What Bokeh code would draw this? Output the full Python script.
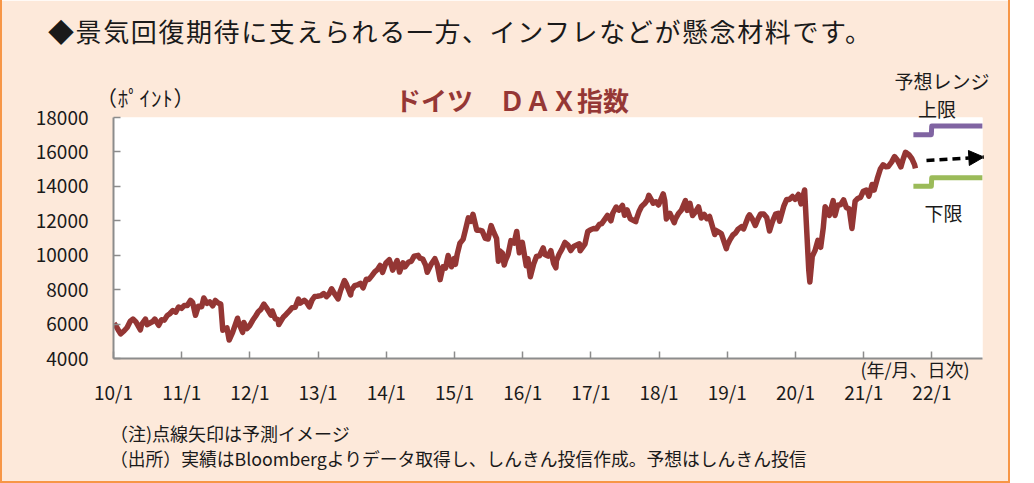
import pandas as pd
from bokeh.plotting import figure
from bokeh.layouts import column
from bokeh.models import Range1d, FixedTicker, Label, Arrow, NormalHead, Div
from bokeh.embed import file_html
from bokeh.resources import INLINE

# ---------------- data ----------------
dax_dates = [
    "2010-01-04", "2010-01-15", "2010-01-29", "2010-02-08", "2010-02-26", "2010-03-15", "2010-03-31",
    "2010-04-15", "2010-04-30", "2010-05-25", "2010-05-31", "2010-06-21", "2010-06-30", "2010-07-15",
    "2010-07-30", "2010-08-10", "2010-08-31", "2010-09-15", "2010-09-30", "2010-10-15", "2010-10-29",
    "2010-11-15", "2010-11-30", "2010-12-15", "2010-12-31",
    "2011-01-14", "2011-01-31", "2011-02-17", "2011-02-28", "2011-03-16", "2011-03-31", "2011-04-18",
    "2011-04-29", "2011-05-16", "2011-05-31", "2011-06-16", "2011-06-30", "2011-07-15", "2011-07-29",
    "2011-08-09", "2011-08-31", "2011-09-12", "2011-09-30", "2011-10-27", "2011-10-31", "2011-11-23",
    "2011-11-30", "2011-12-15", "2011-12-30",
    "2012-01-16", "2012-01-31", "2012-02-15", "2012-02-29", "2012-03-16", "2012-03-30", "2012-04-23",
    "2012-04-30", "2012-05-16", "2012-05-31", "2012-06-04", "2012-06-29", "2012-07-13", "2012-07-31",
    "2012-08-15", "2012-08-31", "2012-09-17", "2012-09-28", "2012-10-19", "2012-10-31", "2012-11-15",
    "2012-11-30", "2012-12-14", "2012-12-28",
    "2013-01-15", "2013-01-31", "2013-02-15", "2013-02-28", "2013-03-14", "2013-03-28", "2013-04-18",
    "2013-04-30", "2013-05-22", "2013-05-31", "2013-06-24", "2013-06-28", "2013-07-15", "2013-07-31",
    "2013-08-15", "2013-08-30", "2013-09-16", "2013-09-30", "2013-10-15", "2013-10-31", "2013-11-15",
    "2013-11-29", "2013-12-12", "2013-12-30",
    "2014-01-17", "2014-01-31", "2014-02-04", "2014-02-28", "2014-03-13", "2014-03-31", "2014-04-11",
    "2014-04-30", "2014-05-15", "2014-05-30", "2014-06-20", "2014-06-30", "2014-07-15", "2014-07-31",
    "2014-08-08", "2014-08-29", "2014-09-18", "2014-09-30", "2014-10-16", "2014-10-31", "2014-11-14",
    "2014-11-28", "2014-12-16", "2014-12-30",
    "2015-01-06", "2015-01-15", "2015-01-30", "2015-02-16", "2015-02-27", "2015-03-16", "2015-03-31",
    "2015-04-10", "2015-04-30", "2015-05-15", "2015-05-29", "2015-06-15", "2015-06-30", "2015-07-16",
    "2015-07-31", "2015-08-14", "2015-08-24", "2015-08-31", "2015-09-14", "2015-09-24", "2015-09-30",
    "2015-10-15", "2015-10-30", "2015-11-16", "2015-11-30", "2015-12-14", "2015-12-30",
    "2016-01-20", "2016-01-29", "2016-02-11", "2016-02-29", "2016-03-15", "2016-03-31", "2016-04-20",
    "2016-04-29", "2016-05-16", "2016-05-31", "2016-06-15", "2016-06-27", "2016-06-30", "2016-07-15",
    "2016-07-29", "2016-08-15", "2016-08-31", "2016-09-15", "2016-09-30", "2016-10-14", "2016-10-31",
    "2016-11-04", "2016-11-30", "2016-12-15", "2016-12-30",
    "2017-01-16", "2017-01-31", "2017-02-15", "2017-02-28", "2017-03-16", "2017-03-31", "2017-04-18",
    "2017-04-28", "2017-05-16", "2017-05-31", "2017-06-19", "2017-06-30", "2017-07-14", "2017-07-31",
    "2017-08-29", "2017-08-31", "2017-09-15", "2017-09-29", "2017-10-16", "2017-10-31", "2017-11-07",
    "2017-11-30", "2017-12-15", "2017-12-29",
    "2018-01-23", "2018-01-31", "2018-02-09", "2018-02-28", "2018-03-23", "2018-03-29", "2018-04-16",
    "2018-04-30", "2018-05-22", "2018-05-31", "2018-06-15", "2018-06-29", "2018-07-16", "2018-07-31",
    "2018-08-15", "2018-08-31", "2018-09-14", "2018-09-28", "2018-10-26", "2018-10-31", "2018-11-15",
    "2018-11-30", "2018-12-27", "2018-12-31",
    "2019-01-15", "2019-01-31", "2019-02-15", "2019-02-28", "2019-03-18", "2019-03-29", "2019-04-23",
    "2019-04-30", "2019-05-15", "2019-05-31", "2019-06-14", "2019-06-28", "2019-07-15", "2019-07-31",
    "2019-08-15", "2019-08-30", "2019-09-16", "2019-09-30", "2019-10-08", "2019-10-31", "2019-11-15",
    "2019-11-29", "2019-12-16", "2019-12-30",
    "2020-01-17", "2020-01-31", "2020-02-19", "2020-02-28", "2020-03-12", "2020-03-18", "2020-03-31",
    "2020-04-15", "2020-04-30", "2020-05-15", "2020-05-29", "2020-06-08", "2020-06-30", "2020-07-21",
    "2020-07-31", "2020-08-14", "2020-08-31", "2020-09-15", "2020-09-30", "2020-10-15", "2020-10-30",
    "2020-11-16", "2020-11-30", "2020-12-15", "2020-12-30",
    "2021-01-15", "2021-01-29", "2021-02-15", "2021-02-26", "2021-03-15", "2021-03-31", "2021-04-15",
    "2021-04-30", "2021-05-12", "2021-05-31", "2021-06-15", "2021-06-30", "2021-07-19", "2021-07-30",
    "2021-08-13", "2021-08-31", "2021-09-15", "2021-09-30", "2021-10-05",
]
dax_values = [
    6048, 5875, 5608, 5435, 5598, 5800, 6154,
    6290, 6136, 5670, 5964, 6290, 5966, 6060,
    6148, 6290, 5925, 6250, 6229, 6490, 6601,
    6790, 6688, 6990, 6914,
    7075, 7077, 7380, 7272, 6510, 7041, 7010,
    7514, 7200, 7294, 7060, 7376, 7220, 7159,
    5640, 5785, 5070, 5502, 6340, 6141, 5520,
    6089, 5730, 5898,
    6220, 6458, 6720, 6856, 7157, 6947, 6520,
    6761, 6310, 6264, 5970, 6416, 6560, 6772,
    6950, 6970, 7450, 7216, 7380, 7261, 7000,
    7405, 7600, 7612,
    7650, 7776, 7590, 7741, 8050, 7795, 7460,
    7914, 8530, 8349, 7690, 7959, 8230, 8276,
    8370, 8103, 8610, 8594, 8800, 9033, 9170,
    9405, 9000, 9552,
    9740, 9306, 9130, 9692, 9020, 9556, 9320,
    9603, 9650, 9943, 9990, 9833, 9780, 9407,
    9010, 9470, 9800, 9474, 8580, 9327, 9250,
    9980, 9330, 9806,
    9470, 10030, 10694, 10920, 11402, 12170, 11966,
    12375, 11454, 11450, 11413, 10980, 10945, 11720,
    11309, 10980, 9650, 10259, 10130, 9430, 9660,
    10060, 10850, 10710, 11382, 10140, 10743,
    9390, 9798, 8752, 9495, 9930, 9965, 10420,
    10039, 9950, 10263, 9520, 9270, 9680, 10070,
    10337, 10740, 10593, 10270, 10511, 10580, 10665,
    10260, 10640, 11370, 11481,
    11550, 11535, 11790, 11834, 12080, 12313, 12000,
    12438, 12800, 12615, 12890, 12325, 12630, 12118,
    11950, 12056, 12520, 12829, 13000, 13230, 13480,
    13024, 13100, 12918,
    13560, 13189, 12110, 12436, 11890, 12097, 12440,
    12612, 13170, 12605, 13010, 12306, 12540, 12806,
    12160, 12364, 12120, 12247, 11200, 11448, 11350,
    11257, 10380, 10559,
    10890, 11173, 11300, 11516, 11660, 11526, 12230,
    12344, 12100, 11727, 12100, 12399, 12390, 12189,
    11410, 11939, 12380, 12428, 11970, 12867, 13240,
    13236, 13410, 13249,
    13530, 12981, 13790, 11890, 9160, 8442, 9936,
    10280, 10862, 10460, 11587, 12820, 12311, 13170,
    12313, 12900, 12945, 13220, 12761, 12700, 11556,
    13140, 13291, 13360, 13719,
    13790, 13433, 14110, 13786, 14460, 15008, 15250,
    15136, 15150, 15421, 15730, 15531, 15130, 15544,
    15980, 15835, 15620, 15260, 15040,
]

# forecast range (予想レンジ)
range_dates = ["2021-09-24", "2021-12-29", "2021-12-31", "2022-09-30"]
range_upper = [17000, 17000, 17500, 17500]
range_lower = [14000, 14000, 14500, 14500]
arrow_dates = ["2021-12-03", "2022-10-06"]
arrow_values = [15500, 15700]

x_tick_years = [2010, 2011, 2012, 2013, 2014, 2015, 2016, 2017, 2018, 2019, 2020, 2021, 2022]
x_tick_labels = ["10/1", "11/1", "12/1", "13/1", "14/1", "15/1", "16/1", "17/1",
                 "18/1", "19/1", "20/1", "21/1", "22/1"]
y_ticks = [4000, 6000, 8000, 10000, 12000, 14000, 16000, 18000]
y_tick_labels = ["4000", "6000", "8000", "10000", "12000", "14000", "16000", "18000"]

title_text = "◆景気回復期待に支えられる一方、インフレなどが懸念材料です。"
chart_title = "ドイツ　ＤＡＸ指数"
unit_text = "（ﾎﾟｲﾝﾄ）"
x_unit_text = "(年/月、日次)"
range_text = "予想レンジ"
upper_text = "上限"
lower_text = "下限"
note1 = "（注)点線矢印は予測イメージ"
note2 = "（出所）実績はBloombergよりデータ取得し、しんきん投信作成。予想はしんきん投信"


def frac_year(d):
    ts = pd.Timestamp(d)
    days = 366 if ts.is_leap_year else 365
    return ts.year + (ts.dayofyear - 1) / days


dax_x = [frac_year(d) for d in dax_dates]
range_x = [frac_year(d) for d in range_dates]
arrow_x = [frac_year(d) for d in arrow_dates]

# ---------------- layout ----------------
FONT = "Noto Sans CJK JP"
W, H = 1008, 481                          # canvas (card) size
FL, FR, FT, FB = 113, 982, 117, 358       # frame edges in page pixels
PX_YEAR = 68.2
X0 = 2010
X1 = X0 + (FR - FL) / PX_YEAR
Y0, Y1 = 4000, 18000


def lx(px):
    return X0 + (px - FL) / PX_YEAR


def ly(py):
    return Y0 + (FB - py) * (Y1 - Y0) / (FB - FT)


p = figure(width=W, height=H,
           x_range=Range1d(X0, X1), y_range=Range1d(Y0, Y1),
           output_backend="svg", toolbar_location=None,
           min_border_left=FL, min_border_right=W - FR,
           min_border_top=FT, min_border_bottom=H - FB,
           background_fill_color="white", border_fill_color="#FDE9DA",
           outline_line_color=None)
p.grid.visible = False

for ax in (p.xaxis, p.yaxis):
    ax.axis_line_color = "#8C8C8C"
    ax.axis_line_width = 2
    ax.major_tick_line_color = "#8C8C8C"
    ax.major_tick_line_width = 1.5
    ax.major_tick_in = 7
    ax.major_tick_out = 0
    ax.minor_tick_line_color = None
    ax.major_label_text_font = FONT
    ax.major_label_text_font_size = "19px"
    ax.major_label_text_color = "#1a1a1a"

p.xaxis.ticker = FixedTicker(ticks=x_tick_years)
p.xaxis.major_label_overrides = {y: l for y, l in zip(x_tick_years, x_tick_labels)}
p.xaxis.major_label_standoff = 19
p.yaxis.ticker = FixedTicker(ticks=y_ticks)
p.yaxis.major_label_overrides = {v: l for v, l in zip(y_ticks, y_tick_labels)}
p.yaxis.major_label_standoff = 25

p.line(dax_x, dax_values, line_width=5.5, line_color="#943634", line_join="round")
p.line(range_x, range_upper, line_width=5, line_color="#8064A2", line_join="round")
p.line(range_x, range_lower, line_width=5, line_color="#9BBB59", line_join="round")
p.add_layout(Arrow(end=NormalHead(size=15, fill_color="black", line_color="black"),
                   x_start=arrow_x[0], y_start=arrow_values[0],
                   x_end=arrow_x[1], y_end=arrow_values[1],
                   line_color="black", line_width=3.5, line_dash="8 5"))

p.add_layout(Label(x=lx(943), y=ly(212), text=lower_text, text_font=FONT,
                   text_font_size="19px", text_align="center", text_baseline="middle",
                   text_color="#1a1a1a"))


# ---------------- texts outside the frame (HTML overlay) ----------------
def span(text, px, py, size, align="left", bold=False, color="#1a1a1a", spacing=0):
    tx = "-50%" if align == "center" else "0"
    weight = "bold" if bold else "normal"
    return (f'<span style="position:absolute;left:{px}px;top:{py}px;'
            f'transform:translate({tx},-50%);font-family:\'{FONT}\';font-size:{size}px;'
            f'font-weight:{weight};color:{color};white-space:nowrap;line-height:1;'
            f'letter-spacing:{spacing}px;">{text}</span>')


parts = [
    span(title_text, 48, 31, 26, spacing=1.6),
    span(unit_text, 96, 97, 21, spacing=0.8),
    span(chart_title, 512, 100, 26, align="center", bold=True, color="#953735"),
    span(range_text, 942, 80, 19, align="center"),
    span(upper_text, 937, 108, 19, align="center"),
    span(x_unit_text, 915, 369, 18, align="center"),
    span(note1, 110, 433, 18),
    span(note2, 110, 459, 17.8),
    '<div style="position:absolute;left:0;top:0;width:2px;height:483px;background:#F79646;"></div>',
    '<div style="position:absolute;left:1008px;top:0;width:2px;height:483px;background:#F79646;"></div>',
    '<div style="position:absolute;left:0;top:481px;width:1010px;height:2px;background:#F79646;"></div>',
]
html = ('<div style="position:relative;width:1011px;height:483px;pointer-events:none;">'
        + "".join(parts) + "</div>")
overlay = Div(text=html, width=1011, height=483, margin=(-H, 0, 0, 0))

layout = column(p, overlay, spacing=0)
open("out.html", "w").write(file_html(layout, INLINE))
